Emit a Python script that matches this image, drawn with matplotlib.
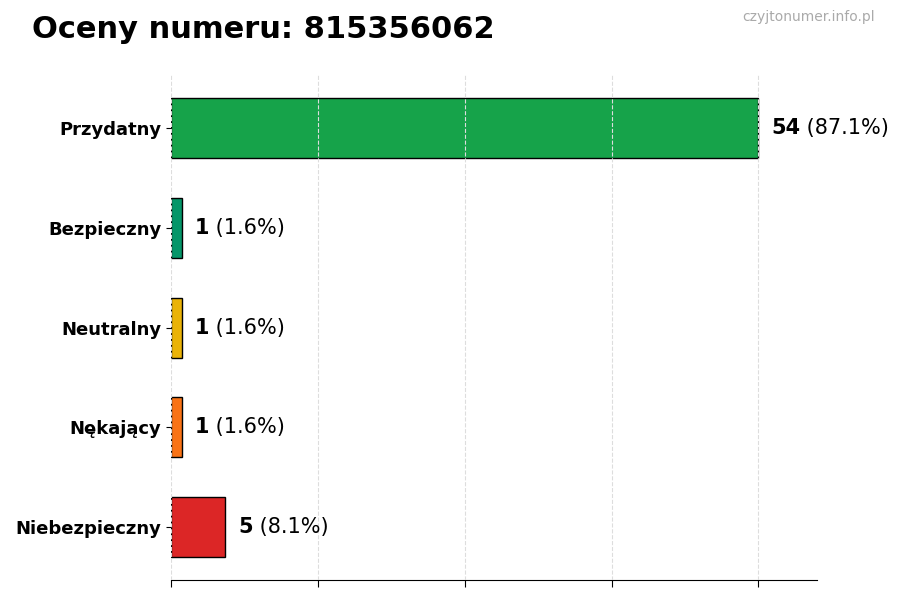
import numpy as np
import matplotlib.pyplot as plt

categories = ['Przydatny', 'Bezpieczny', 'Neutralny', 'Nękający', 'Niebezpieczny']
counts = [54, 1, 1, 1, 5]
colors = ['#16a34a', '#059669', '#eab308', '#f97316', '#dc2626']
number = '815356062'

total = sum(counts)
y = np.arange(len(categories))

fig = plt.figure(figsize=(9, 6), dpi=100)
ax = fig.add_axes([0.19, 0.033, 0.718, 0.842])

ax.barh(y, counts, height=0.6, color=colors, edgecolor='black', linewidth=1, zorder=1)
ax.invert_yaxis()
ax.set_yticks(y)
ax.set_yticklabels(categories, fontsize=13, fontweight='bold')

xmax = max(counts)
ax.set_xlim(0, xmax * 1.1)
ax.set_xticks(np.linspace(0, xmax, 5))
ax.set_xticklabels([])
ax.tick_params(axis='x', length=5)
ax.grid(axis='x', linestyle='--', color='#dddddd', linewidth=0.8, zorder=3)
ax.set_axisbelow(False)

for s in ['top', 'right', 'left']:
    ax.spines[s].set_visible(False)

for yi, c in zip(y, counts):
    t = ax.annotate(str(c), xy=(c, yi), xytext=(9, 0), textcoords='offset points',
                    va='center', ha='left', fontsize=15, fontweight='bold')
    ax.annotate(f' ({c / total * 100:.1f}%)', xy=(1, 0), xycoords=t,
                va='bottom', ha='left', fontsize=15)

fig.text(0.035, 0.95, f'Oceny numeru: {number}', fontsize=22, fontweight='bold',
         ha='left', va='center')
fig.text(0.972, 0.972, 'czyjtonumer.info.pl', fontsize=10, color='#aaaaaa',
         ha='right', va='center')

fig.savefig('out.png', dpi=100)
